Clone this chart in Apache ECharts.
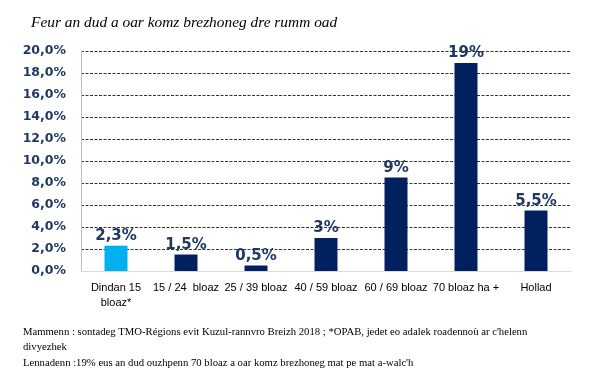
<!DOCTYPE html>
<html><head><meta charset="utf-8">
<script src="https://cdn.jsdelivr.net/npm/echarts@6/dist/echarts.min.js"></script>
<style>html,body{margin:0;padding:0;background:#fff}#c{width:602px;height:384px}</style>
</head><body><div id="c"></div>
<script>
const categories = ['Dindan 15\nbloaz*', '15 / 24  bloaz', '25 / 39 bloaz', '40 / 59 bloaz', '60 / 69 bloaz', '70 bloaz ha +', 'Hollad'];
const values = [2.3, 1.5, 0.5, 3.0, 8.5, 18.9, 5.5];
const valueLabels = ['2,3%', '1,5%', '0,5%', '3%', '9%', '19%', '5,5%'];
const barColors = ['#00B0F0', '#002060', '#002060', '#002060', '#002060', '#002060', '#002060'];
const titleText = 'Feur an dud a oar komz brezhoneg dre rumm oad';
const note1 = "Mammenn : sontadeg TMO-Régions evit Kuzul-rannvro Breizh 2018 ; *OPAB, jedet eo adalek roadennoù ar c'helenn";
const note2 = 'divyezhek';
const note3 = "Lennadenn :19% eus an dud ouzhpenn 70 bloaz a oar komz brezhoneg mat pe mat a-walc'h";

const chart = echarts.init(document.getElementById('c'));
chart.setOption({
  animation: false,
  title: {
    text: titleText, left: 26, top: 10,
    textStyle: { fontFamily: 'Liberation Serif', fontStyle: 'italic', fontWeight: 'normal', fontSize: 15.4, color: '#000' }
  },
  grid: { left: 81, right: 31, top: 51, bottom: 113 },
  xAxis: {
    type: 'category', data: categories,
    axisLine: { lineStyle: { color: '#d9d9d9', width: 1 } },
    axisTick: { show: false },
    axisLabel: { interval: 0, color: '#000', fontFamily: 'Liberation Sans', fontSize: 11, margin: 9, lineHeight: 15 }
  },
  yAxis: {
    type: 'value', min: 0, max: 20, interval: 2,
    axisLine: { show: true, lineStyle: { color: '#bfbfbf' } },
    axisTick: { show: false },
    axisLabel: { formatter: v => v.toFixed(1).replace('.', ',') + '%', color: '#1f3864', fontFamily: 'DejaVu Sans', fontWeight: 'bold', fontSize: 12.5, margin: 15 },
    splitLine: { lineStyle: { color: '#000', type: [3, 1.5], width: 0.8 } }
  },
  series: [{
    type: 'bar', barWidth: 23,
    data: values.map((v, i) => ({ value: v, itemStyle: { color: barColors[i] } })),
    label: {
      show: true, position: 'top', distance: 2,
      formatter: p => valueLabels[p.dataIndex],
      color: '#1f3864', fontFamily: 'DejaVu Sans', fontWeight: 'bold', fontSize: 15
    }
  }],
  graphic: [
    { type: 'text', left: 23, top: 327, style: { text: note1, font: '10.7px "Liberation Serif"', fill: '#000' } },
    { type: 'text', left: 23, top: 342, style: { text: note2, font: '10.7px "Liberation Serif"', fill: '#000' } },
    { type: 'text', left: 23, top: 358, style: { text: note3, font: '10.7px "Liberation Serif"', fill: '#000' } }
  ]
});
</script></body></html>
